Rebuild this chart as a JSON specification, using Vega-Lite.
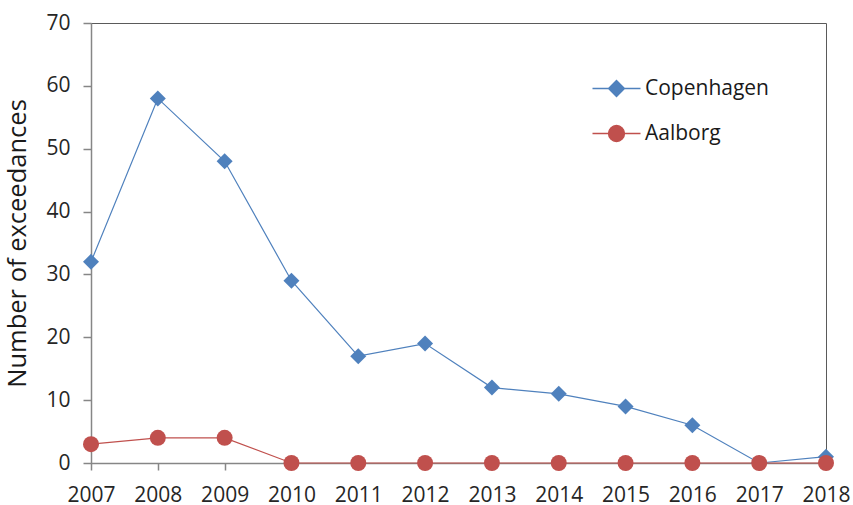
{
  "$schema": "https://vega.github.io/schema/vega-lite/v6.json",
  "width": 735,
  "height": 440,
  "autosize": "none",
  "padding": {"left": 91, "top": 23, "right": 27, "bottom": 42},
  "background": "white",
  "config": {
    "font": "Open Sans",
    "view": {"stroke": "#5a5a5a", "strokeWidth": 1},
    "axis": {
      "domainColor": "#868686",
      "tickColor": "#868686",
      "domainWidth": 1.5,
      "tickWidth": 1.5,
      "labelColor": "#262626",
      "labelFont": "Open Sans",
      "labelFontSize": 21,
      "grid": false
    }
  },
  "data": {
    "values": [
      {"year": 2007, "city": "Copenhagen", "value": 32},
      {"year": 2008, "city": "Copenhagen", "value": 58},
      {"year": 2009, "city": "Copenhagen", "value": 48},
      {"year": 2010, "city": "Copenhagen", "value": 29},
      {"year": 2011, "city": "Copenhagen", "value": 17},
      {"year": 2012, "city": "Copenhagen", "value": 19},
      {"year": 2013, "city": "Copenhagen", "value": 12},
      {"year": 2014, "city": "Copenhagen", "value": 11},
      {"year": 2015, "city": "Copenhagen", "value": 9},
      {"year": 2016, "city": "Copenhagen", "value": 6},
      {"year": 2017, "city": "Copenhagen", "value": 0},
      {"year": 2018, "city": "Copenhagen", "value": 1},
      {"year": 2007, "city": "Aalborg", "value": 3},
      {"year": 2008, "city": "Aalborg", "value": 4},
      {"year": 2009, "city": "Aalborg", "value": 4},
      {"year": 2010, "city": "Aalborg", "value": 0},
      {"year": 2011, "city": "Aalborg", "value": 0},
      {"year": 2012, "city": "Aalborg", "value": 0},
      {"year": 2013, "city": "Aalborg", "value": 0},
      {"year": 2014, "city": "Aalborg", "value": 0},
      {"year": 2015, "city": "Aalborg", "value": 0},
      {"year": 2016, "city": "Aalborg", "value": 0},
      {"year": 2017, "city": "Aalborg", "value": 0},
      {"year": 2018, "city": "Aalborg", "value": 0}
    ]
  },
  "encoding": {
    "x": {
      "field": "year",
      "type": "quantitative",
      "scale": {"domain": [2007, 2018], "nice": false, "zero": false},
      "axis": {
        "title": null,
        "values": [2007, 2008, 2009, 2010, 2011, 2012, 2013, 2014, 2015, 2016, 2017, 2018],
        "format": "d",
        "tickSize": 7,
        "labelPadding": 14,
        "labelFlush": false,
        "labelOverlap": false
      }
    },
    "y": {
      "field": "value",
      "type": "quantitative",
      "scale": {"domain": [0, 70], "nice": false},
      "axis": {
        "title": "Number of exceedances",
        "titleFont": "Open Sans",
        "titleFontSize": 25.5,
        "titleFontWeight": "normal",
        "titleColor": "#1a1a1a",
        "titlePadding": 15,
        "values": [0, 10, 20, 30, 40, 50, 60, 70],
        "tickSize": 8,
        "labelPadding": 13
      }
    },
    "color": {
      "field": "city",
      "type": "nominal",
      "scale": {"domain": ["Copenhagen", "Aalborg"], "range": ["#4F81BD", "#C0504D"]},
      "legend": null
    }
  },
  "layer": [
    {
      "mark": {"type": "line", "strokeWidth": 1.2},
      "encoding": {"detail": {"field": "city"}}
    },
    {
      "mark": {"type": "point", "filled": true, "opacity": 1, "size": 256},
      "encoding": {
        "shape": {
          "field": "city",
          "type": "nominal",
          "scale": {"domain": ["Copenhagen", "Aalborg"], "range": ["diamond", "circle"]},
          "legend": null
        }
      }
    },
    {
      "mark": {"type": "point", "filled": true, "opacity": 0, "size": 256},
      "encoding": {
        "fill": {
          "field": "city",
          "type": "nominal",
          "scale": {"domain": ["Copenhagen", "Aalborg"], "range": ["#4F81BD", "#C0504D"]},
          "legend": {
            "title": null,
            "orient": "none",
            "legendX": 515,
            "legendY": 55,
            "padding": 0,
            "symbolSize": 256,
            "symbolOpacity": 1,
            "symbolStrokeWidth": 1.3,
            "labelFontSize": 21,
            "labelFont": "Open Sans",
            "labelColor": "#1a1a1a",
            "labelOffset": 18,
            "rowPadding": 22,
            "encode": {
              "symbols": {
                "update": {
                  "opacity": {"value": 1},
                  "fillOpacity": {"value": 1},
                  "strokeOpacity": {"value": 1}
                }
              }
            }
          }
        },
        "stroke": {
          "field": "city",
          "type": "nominal",
          "scale": {"domain": ["Copenhagen", "Aalborg"], "range": ["#4F81BD", "#C0504D"]}
        },
        "shape": {
          "field": "city",
          "type": "nominal",
          "scale": {
            "domain": ["Copenhagen", "Aalborg"],
            "range": [
              "M-3,0L-1,0M1,0L3,0M0,-1L1,0L0,1L-1,0Z",
              "M-3,0L-1,0M1,0L3,0M-1,0A1,1 0 1,0 1,0A1,1 0 1,0 -1,0Z"
            ]
          }
        }
      }
    }
  ],
  "resolve": {
    "scale": {"shape": "independent", "fill": "independent", "stroke": "independent"},
    "legend": {"shape": "independent", "fill": "independent", "stroke": "independent", "color": "independent"}
  }
}
